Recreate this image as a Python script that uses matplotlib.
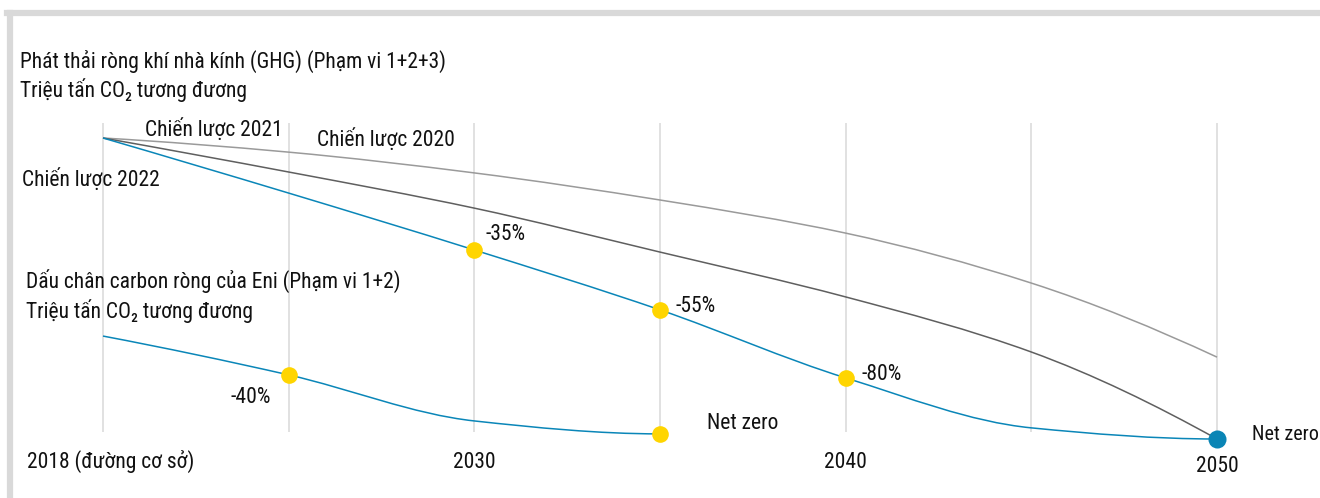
import matplotlib.pyplot as plt
from matplotlib.path import Path
from matplotlib.patches import PathPatch

# x axis is evenly spaced milestones, not linear years
years = ['2018 (đường cơ sở)', '2025', '2030', '2035', '2040', '2045', '2050']
shown_ticks = ['2018 (đường cơ sở)', '2030', '2040', '2050']

# Net GHG emissions (Scope 1+2+3), index (2018 = 100)
strategy_2020 = [100, 95.3, 88.4, 79.4, 68.4, 51.8, 27.2]
strategy_2021 = [100, 88.7, 76.7, 62.1, 47.2, 28.9, 0]
strategy_2022 = [100, 81.7, 62.8, 42.9, 20.3, 3.7, 0]
ghg_targets = {'2030': ('-35%', 62.8), '2035': ('-55%', 42.9), '2040': ('-80%', 20.3)}

# Eni net carbon footprint (Scope 1+2)
footprint_years = ['2018 (đường cơ sở)', '2025', '2030', '2035']
footprint = [34.2, 21.3, 6.0, 1.7]

W, H = 1320, 498
BLUE = '#0a86b8'
YELLOW = '#ffd500'
plt.rcParams['font.family'] = ['Roboto Condensed', 'DejaVu Sans']


def px(x, y):
    '''figure pixel -> figure fraction'''
    return x / W, 1 - y / H


def label(x, y, s, size=15.5, ha='left'):
    fx, fy = px(x, y)
    fig.text(fx, fy, s, fontsize=size, ha=ha, va='baseline', color='#111111')


def end_slope(d0, d1):
    m = (3 * d0 - d1) / 2
    if m * d0 <= 0:
        return 0.0
    if d0 * d1 < 0 and abs(m) > 3 * abs(d0):
        return 3 * d0
    return m


def smooth_line(ax, xs, ys, **kw):
    '''monotone cubic (pchip style) through the points, drawn as Bezier path'''
    d = [ys[i + 1] - ys[i] for i in range(len(ys) - 1)]
    m = [end_slope(d[0], d[1])]
    for i in range(1, len(ys) - 1):
        a, b = d[i - 1], d[i]
        m.append(0.0 if a * b <= 0 else 2 / (1 / a + 1 / b))
    m.append(end_slope(d[-1], d[-2]))
    verts, codes = [(xs[0], ys[0])], [Path.MOVETO]
    for i in range(len(ys) - 1):
        h = xs[i + 1] - xs[i]
        verts += [(xs[i] + h / 3, ys[i] + m[i] * h / 3),
                  (xs[i + 1] - h / 3, ys[i + 1] - m[i + 1] * h / 3),
                  (xs[i + 1], ys[i + 1])]
        codes += [Path.CURVE4] * 3
    ax.add_patch(PathPatch(Path(verts, codes), fill=False, **kw))


fig = plt.figure(figsize=(W / 100, H / 100), dpi=100)
ax = fig.add_axes([0, 0, 1, 1])
ax.axis('off')

# map index 0 -> 103px, 6 -> 1217px ; value 0 -> 439px, 3.01px per unit
step = (1217 - 103) / 6
ax.set_xlim(-103 / step, 6 + (W - 1217) / step)
ax.set_ylim((439 - H) / 3.01, 439 / 3.01)

xi = list(range(len(years)))
pos = dict(zip(years, xi))

# frame (only top and left visible)
fig.add_artist(plt.Line2D([0.0055, 1], [1 - 13 / H] * 2, color='#d9d9d9', lw=4.5))
fig.add_artist(plt.Line2D([10 / W] * 2, [0, 1 - 13 / H], color='#d9d9d9', lw=4.5))

ax.vlines(xi, (439 - 432) / 3.01, (439 - 123) / 3.01, color='#dcdcdc', lw=1.2, zorder=1)

smooth_line(ax, xi, strategy_2020, ec='#9a9a9a', lw=1.1, zorder=2)
smooth_line(ax, xi, strategy_2021, ec='#5f5f5f', lw=1.1, zorder=2)
smooth_line(ax, xi, strategy_2022, ec=BLUE, lw=1.1, zorder=3)
smooth_line(ax, [pos[y] for y in footprint_years], footprint, ec=BLUE, lw=1.1, zorder=3)

for yr, (txt, val) in ghg_targets.items():
    ax.plot(pos[yr], val, 'o', color=YELLOW, ms=12, mec='none', zorder=4)
ax.plot(pos['2025'], footprint[1], 'o', color=YELLOW, ms=12, mec='none', zorder=4)
ax.plot(pos['2035'], footprint[-1], 'o', color=YELLOW, ms=12, mec='none', zorder=4)
ax.plot(pos['2050'], strategy_2022[-1], 'o', color='#0a85b5', ms=13, mec='none', zorder=4)

label(20, 68, 'Phát thải ròng khí nhà kính (GHG) (Phạm vi 1+2+3)')
label(20, 97, 'Triệu tấn CO₂ tương đương')
label(145, 136, 'Chiến lược 2021')
label(317, 146, 'Chiến lược 2020')
label(22, 186, 'Chiến lược 2022')

label(486, 240, '-35%')
label(676, 312, '-55%')
label(862, 380, '-80%')

label(26, 288, 'Dấu chân carbon ròng của Eni (Phạm vi 1+2)')
label(26, 318, 'Triệu tấn CO₂ tương đương')
label(230, 403, '-40%')
label(707, 429, 'Net zero')
label(1252, 440, 'Net zero', size=14.5)

label(27, 468, shown_ticks[0])
for t, xc in zip(shown_ticks[1:], [474, 845, 1217]):
    label(xc, 468 if t != '2050' else 472, t, ha='center')

fig.savefig('out.png', dpi=100)
